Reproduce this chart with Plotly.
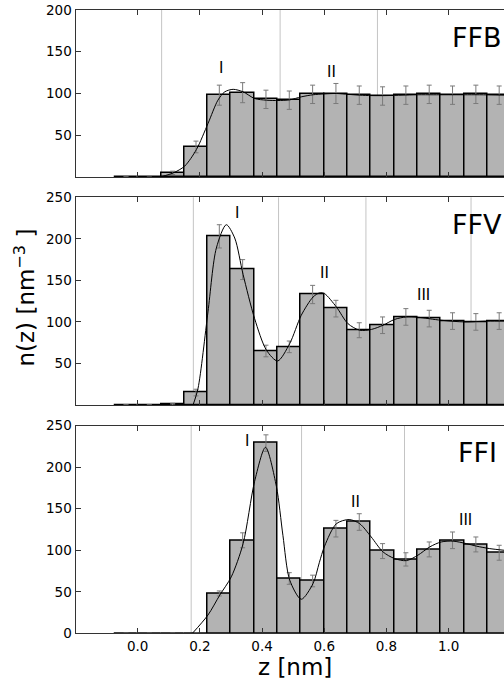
import plotly.graph_objects as go

# ---------------- data ----------------
bin_width = 0.075
bin_centers = [-0.0375, 0.0375, 0.1125, 0.1875, 0.2625, 0.3375, 0.4125, 0.4875, 0.5625,
               0.6375, 0.7125, 0.7875, 0.8625, 0.9375, 1.0125, 1.0875, 1.1625]

ffb_vals = [0, 0, 5, 36, 98, 101, 93, 92, 99, 100, 98, 97, 98, 99, 98, 99, 98]
ffb_errs = [None, None, 2, 7, 12, 12, 11, 11, 11, 12, 11, 11, 11, 11, 11, 11, 11]

ffv_vals = [0, 0, 1, 15, 203, 163, 65, 70, 133, 116, 90, 96, 106, 104, 101, 100, 101]
ffv_errs = [None, None, 1, 4, 14, 12, 7, 7, 11, 10, 9, 10, 10, 10, 10, 10, 10]

ffi_vals = [0, 0, 0, 0, 48, 112, 229, 66, 63, 126, 134, 99, 89, 101, 112, 107, 97]
ffi_errs = [None, None, None, None, 3, 9, 10, 7, 7, 10, 10, 9, 8, 9, 10, 9, 9]

ffb_curve_z = [0.0, 0.06, 0.081, 0.115, 0.151, 0.189, 0.226, 0.258, 0.28, 0.307, 0.339, 0.376,
               0.414, 0.451, 0.489, 0.526, 0.564, 0.601, 0.639, 0.676, 0.714, 0.75, 0.8, 0.85,
               0.9, 0.95, 1.0, 1.05, 1.1, 1.18]
ffb_curve_n = [0, 0, 1, 5, 13, 33, 64, 92, 102, 105, 102, 94,
               92, 91.6, 92.4, 96, 98.5, 99.5, 100, 99, 98, 97.5, 97.5, 98,
               98.5, 98.5, 98.5, 98.5, 98.5, 98]

ffv_curve_z = [0.178, 0.194, 0.226, 0.253, 0.285, 0.312, 0.339, 0.376, 0.414, 0.45, 0.489,
               0.526, 0.564, 0.585, 0.601, 0.639, 0.676, 0.714, 0.752, 0.789, 0.826, 0.864,
               0.901, 0.976, 1.051, 1.126, 1.18]
ffv_curve_n = [0, 20, 112, 189, 217, 201, 157, 104, 66, 53, 74,
               108, 130, 135, 134, 118, 98, 90, 91, 96, 103, 106,
               105.6, 102, 100, 101, 101]

ffi_curve_z = [0.176, 0.226, 0.264, 0.301, 0.339, 0.376, 0.411, 0.446, 0.467, 0.489, 0.526,
               0.564, 0.584, 0.601, 0.639, 0.68, 0.714, 0.751, 0.789, 0.826, 0.864, 0.901,
               0.939, 0.976, 1.014, 1.057, 1.089, 1.132, 1.178]
ffi_curve_n = [0, 22, 46, 68, 108, 183, 224, 177, 118, 64, 41,
               60, 85, 105, 132, 137, 132, 116, 98, 90, 87.5, 94,
               104, 110, 111, 108, 105, 102, 100]

ffb_shells = [0.077, 0.458, 0.771]
ffv_shells = [0.179, 0.453, 0.734, 1.072]
ffi_shells = [0.172, 0.527, 0.858]

ffb_roman = (["I", "II"], [0.269, 0.623], [130, 126])
ffv_roman = (["I", "II", "III"], [0.319, 0.601, 0.92], [231, 159, 132])
ffi_roman = (["I", "II", "III"], [0.353, 0.701, 1.054], [231, 158, 136])

panel_names = ["FFB", "FFV", "FFI"]
y_max = [200, 250, 250]
y_ticks = [[50, 100, 150, 200], [50, 100, 150, 200, 250], [0, 50, 100, 150, 200, 250]]
x_ticks = [0.0, 0.2, 0.4, 0.6, 0.8, 1.0, 1.2]
x_tick_text = ["0.0", "0.2", "0.4", "0.6", "0.8", "1.0", "1.2"]

# ---------------- layout geometry ----------------
W, H = 504, 681
FONT = "DejaVu Sans"
x_dom = [75.5 / W, 1.0]
y_doms_px = [(10, 177), (197.3, 405), (425.7, 633.3)]
y_doms = [[1 - b / H, 1 - t / H] for (t, b) in y_doms_px]

panels = [
    (ffb_vals, ffb_errs, ffb_curve_z, ffb_curve_n, ffb_shells, ffb_roman),
    (ffv_vals, ffv_errs, ffv_curve_z, ffv_curve_n, ffv_shells, ffv_roman),
    (ffi_vals, ffi_errs, ffi_curve_z, ffi_curve_n, ffi_shells, ffi_roman),
]

fig = go.Figure()
shapes = []
annotations = []
layout = dict(
    template="none",
    width=W, height=H, margin=dict(l=0, r=0, t=0, b=0, autoexpand=False),
    paper_bgcolor="white", plot_bgcolor="white", showlegend=False,
    font=dict(family=FONT, size=13.5, color="black"),
    bargap=0,
)

for i, (vals, errs, cz, cn, shells, roman) in enumerate(panels):
    sfx = "" if i == 0 else str(i + 1)
    xa, ya = "x" + sfx, "y" + sfx
    fig.add_trace(go.Bar(
        x=bin_centers, y=vals, width=bin_width, xaxis=xa, yaxis=ya,
        marker=dict(color="#b3b3b3", line=dict(color="black", width=1.5)),
        error_y=dict(type="data", array=errs, visible=True, color="#7a7a7a",
                     thickness=1, width=2.5),
    ))
    fig.add_trace(go.Scatter(
        x=cz, y=cn, mode="lines", xaxis=xa, yaxis=ya,
        line=dict(color="black", width=1, shape="spline", smoothing=0.8),
    ))
    for s in shells:
        shapes.append(dict(type="line", xref=xa, yref=ya + " domain", x0=s, x1=s, y0=0, y1=1,
                           line=dict(color="#c4c4c4", width=1), layer="below"))
    for t, rx, ry in zip(*roman):
        annotations.append(dict(text=t, x=rx, y=ry, xref=xa, yref=ya, showarrow=False,
                                font=dict(family=FONT, size=15, color="black")))
    layout["xaxis" + sfx] = dict(
        domain=x_dom, range=[-0.2, 1.178], anchor=ya, automargin=False,
        tickvals=x_ticks, ticktext=x_tick_text, showticklabels=(i == 2),
        ticks="inside", ticklen=5, tickcolor="#333", showgrid=False, zeroline=False,
        showline=True, linecolor="#333", linewidth=1, mirror="ticks",
    )
    layout["yaxis" + sfx] = dict(
        domain=y_doms[i], range=[0, y_max[i]], anchor=xa, automargin=False,
        tickvals=y_ticks[i], ticks="inside", ticklen=5, tickcolor="#333",
        showgrid=False, zeroline=False, showline=True, linecolor="#333", linewidth=1,
    )

# panel labels
label_pos = [(450, 37.3), (450, 224), (456, 452.7)]
for name, (px, py) in zip(panel_names, label_pos):
    annotations.append(dict(text=name, x=px / W, y=1 - py / H, xref="paper", yref="paper",
                            xanchor="left", yanchor="middle", showarrow=False,
                            font=dict(family=FONT, size=27, color="black")))

# axis titles
annotations.append(dict(text="z [nm]", x=295 / W, y=1 - 667 / H, xref="paper", yref="paper",
                        xanchor="center", yanchor="middle", showarrow=False,
                        font=dict(family=FONT, size=23, color="black")))
annotations.append(dict(text="n(z) [nm<sup>−3</sup> ]", x=25 / W, y=1 - 297.5 / H,
                        xref="paper", yref="paper", xanchor="center", yanchor="middle",
                        textangle=-90, showarrow=False,
                        font=dict(family=FONT, size=23, color="black")))

layout["shapes"] = shapes
layout["annotations"] = annotations
fig.update_layout(**layout)
fig.write_html("out.html")
